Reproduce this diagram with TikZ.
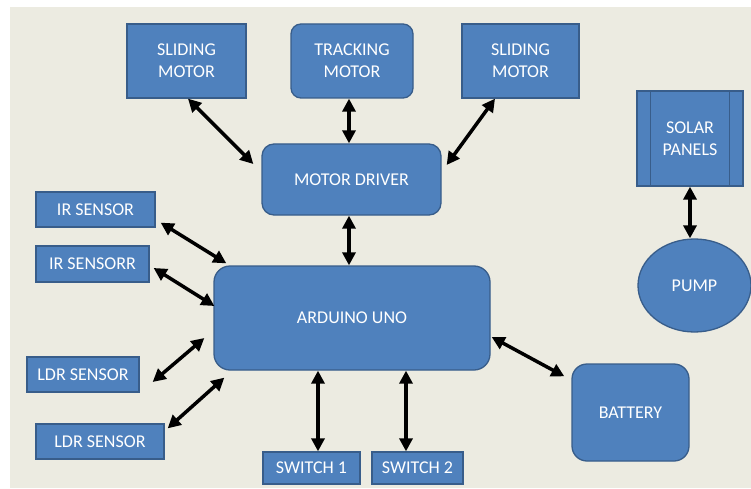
\documentclass[tikz,border=0pt]{standalone}
\usepackage{fontspec}
\setmainfont{Carlito}
\usepackage{tikz}
\usetikzlibrary{arrows.meta,shapes.geometric}
\definecolor{boxblue}{HTML}{4F81BD}
\definecolor{boxedge}{HTML}{385D8A}
\definecolor{paper}{HTML}{ECEBE1}
\tikzset{
  blk/.style={draw=boxedge, line width=1.3pt, fill=boxblue, text=white,
    inner sep=0pt, align=center, font=\fontsize{18}{22}\selectfont},
  rblk/.style={blk, rounded corners=#1},
  link/.style={line width=3.5pt,
    {Triangle[length=13pt,width=13pt]}-{Triangle[length=13pt,width=13pt]}}
}

\begin{document}
\begin{tikzpicture}[x=1pt,y=-1pt]
% Page and background
\useasboundingbox (0,0) rectangle (751,489);
\fill[white] (0,0) rectangle (751,489);
\fill[paper] (10,7) rectangle (751,488);

% Motors on top
\node[blk, minimum width=119, minimum height=74] (slideL) at (186.5,61) {SLIDING\\MOTOR};
\node[rblk=10pt, minimum width=122, minimum height=74] (track) at (352,61) {TRACKING\\MOTOR};
\node[blk, minimum width=117, minimum height=74] (slideR) at (520.5,61) {SLIDING\\MOTOR};

% Motor driver
\node[rblk=12pt, minimum width=179, minimum height=71] (driver) at (351.5,179.5) {MOTOR DRIVER};

% Controller
\node[rblk=16pt, minimum width=276, minimum height=104] (uno) at (352,318) {ARDUINO UNO};

% Sensors
\node[blk, minimum width=119, minimum height=35] (ir1) at (95.5,209.5) {IR SENSOR};
\node[blk, minimum width=113, minimum height=36] (ir2) at (92.5,264) {IR SENSORR};
\node[blk, minimum width=112, minimum height=35] (ldr1) at (83,374.5) {LDR SENSOR};
\node[blk, minimum width=128, minimum height=35] (ldr2) at (100,441.5) {LDR SENSOR};

% Switches
\node[blk, minimum width=97, minimum height=32] (sw1) at (311.5,468) {SWITCH 1};
\node[blk, minimum width=91, minimum height=32] (sw2) at (417.5,468) {SWITCH 2};

% Power
\node[rblk=15pt, minimum width=117, minimum height=97] (batt) at (630.5,412.5) {BATTERY};
\node[blk, minimum width=106, minimum height=95] (solar) at (690,138.5) {SOLAR\\PANELS};
\draw[boxedge, line width=1.3pt] ([xshift=14pt]solar.north west) -- ([xshift=14pt]solar.south west);
\draw[boxedge, line width=1.3pt] ([xshift=-14pt]solar.north east) -- ([xshift=-14pt]solar.south east);
\node[blk, ellipse, minimum width=113, minimum height=93] (pump) at (694.5,285.5) {PUMP};

% Connections
\draw[link] ([xshift=1.5pt]slideL.south) -- ([xshift=-8pt,yshift=15.5pt]driver.west);
\draw[link] ([xshift=-3pt]track.south) -- ([xshift=-2.5pt]driver.north);
\draw[link] ([xshift=-25.5pt]slideR.south) -- ([xshift=5pt,yshift=14.5pt]driver.east);
\draw[link] ([xshift=-2.5pt]driver.south) -- ([xshift=-3pt]uno.north);
\draw[link] ([xshift=5pt,yshift=5pt]ir1.south east) -- ([xshift=13pt,yshift=2pt]uno.north west);
\draw[link] ([xshift=4pt,yshift=-4pt]ir2.east) -- ([xshift=1pt,yshift=12pt]uno.west);
\draw[link] ([xshift=13pt,yshift=-7.5pt]ldr1.east) -- ([xshift=-9pt,yshift=-20pt]uno.west);
\draw[link] ([xshift=3pt,yshift=-5pt]ldr2.north east) -- ([xshift=11pt,yshift=-7pt]uno.south west);
\draw[link] ([xshift=-34pt]uno.south) -- ([xshift=6.5pt]sw1.north);
\draw[link] ([xshift=54pt]uno.south) -- ([xshift=-11.5pt]sw2.north);
\draw[link] ([xshift=1pt,yshift=-19pt]uno.east) -- ([xshift=-7pt,yshift=-13pt]batt.north west);
\draw[link] (solar.south) -- ([xshift=-4.5pt]pump.north);
\end{tikzpicture}
\end{document}
